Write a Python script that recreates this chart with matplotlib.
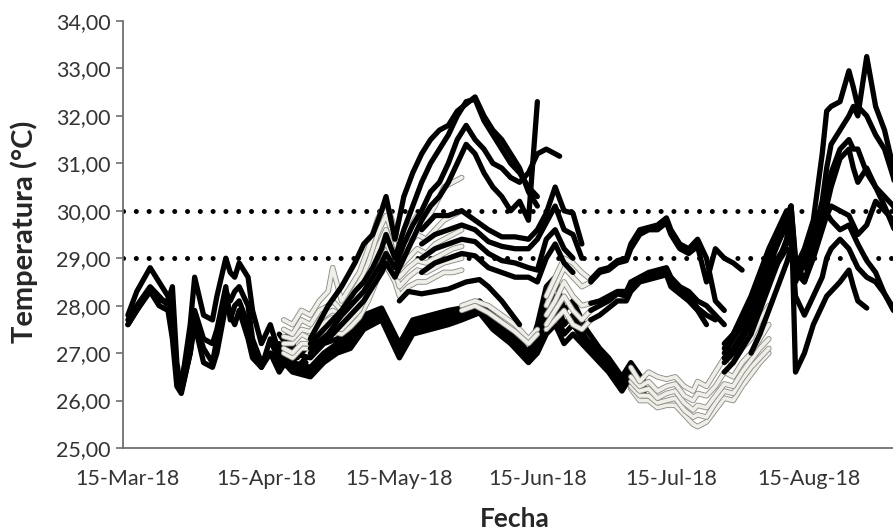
import numpy as np
import matplotlib
matplotlib.use("Agg")
import matplotlib.pyplot as plt
import matplotlib.dates as mdates
import matplotlib.patheffects as pe

nan = np.nan
START = np.datetime64("2018-03-15")

# --- data: days after 15-Mar-18 and temperatures (°C) ---

# March - April, black
days_mar = [0, 2, 5, 7, 9, 10, 11, 12, 14, 15, 17, 19, 20, 22, 23, 24, 25, 27, 28, 30, 32, 34, 36, 38, 40]
mar_1 = [27.8, 28.3, 28.8, 28.5, 28.2, 27.5, 26.6, 26.3, 27.6, 28.6, 27.8, 27.7, 28.2, 29.0, 28.7, 28.6, 28.9, 28.6, 27.9, 27.2, 27.6, 27.0, 27.4, 27.0, 27.2]
mar_2 = [27.6, 27.9, 28.35, 28.1, 28.1, 28.4, 26.8, 26.2, 27.0, 27.7, 27.1, 26.8, 27.3, 28.3, 28.1, 28.3, 28.4, 28.0, 27.3, 26.8, 27.0, 26.7, 27.1, 26.7, 26.9]
mar_3 = [27.7, 28.0, 28.4, 28.2, 28.0, 27.8, 26.5, 26.4, 27.3, 27.9, 27.3, 27.2, 27.5, 28.4, 27.7, 28.0, 28.1, 27.6, 27.0, 26.7, 27.3, 26.8, 27.2, 26.9, 27.1]
mar_4 = [27.6, 27.9, 28.3, 28.0, 27.9, 27.3, 26.3, 26.15, 27.0, 27.6, 26.8, 26.7, 27.0, 28.0, 27.8, 27.6, 27.9, 27.3, 26.9, 26.7, 27.0, 26.6, 26.9, 26.6, 26.8]

# April - May, light
days_light = [35, 37, 39, 41, 43, 45, 46, 48, 50, 52, 54, 56, 58, 60, 61, 63, 65, 67, 69, 71, 73, 75]
light_1 = [27.7, 27.6, 27.9, 27.8, 28.1, 28.3, 28.8, 28.1, 28.4, 28.7, 29.2, 29.8, 30.2, 29.6, 29.3, 29.6, 29.9, 29.8, 30.1, 30.5, 30.6, 30.7]
light_2 = [27.5, 27.4, 27.7, 27.6, 27.9, 28.0, 28.1, 27.9, 28.2, 28.5, 28.9, 29.5, 29.9, 29.4, 29.0, 29.3, 29.5, 29.4, 29.6, 29.8, 29.9, 30.0]
light_3 = [27.35, 27.3, 27.5, 27.45, 27.7, 27.85, 27.9, 27.8, 28.0, 28.3, 28.7, 29.2, 29.6, 29.1, 28.8, 29.0, 29.2, 29.1, 29.3, 29.4, 29.5, 29.6]
light_4 = [27.2, 27.2, 27.4, 27.3, 27.55, 27.7, 27.75, 27.65, 27.85, 28.1, 28.5, 29.0, 29.35, 28.9, 28.6, 28.8, 28.95, 28.9, 29.0, 29.1, 29.2, 29.25]
light_5 = [27.1, 27.0, 27.2, 27.2, 27.4, 27.55, 27.6, 27.5, 27.7, 27.9, 28.3, 28.75, 29.1, 28.7, 28.4, 28.6, 28.75, 28.7, 28.8, 28.9, 28.95, 29.0]
light_6 = [27.0, 26.9, 27.1, 27.1, 27.3, 27.4, 27.45, 27.4, 27.55, 27.75, 28.1, 28.55, 28.85, 28.5, 28.2, 28.4, 28.5, 28.5, 28.6, 28.7, 28.7, 28.75]

# lower bundle, April - July, black
days_low = [34, 37, 41, 44, 47, 50, 53, 57, 61, 64, 68, 72, 75, 79, 82, 86, 90, 92, 94, 96, 98, 100, 103, 106, 108, 111, 113, 116]
low_1 = [27.4, 27.0, 26.9, 27.2, 27.3, 27.4, 27.8, 27.95, 27.2, 27.7, 27.8, 27.9, 27.95, 28.1, 27.8, 27.5, 27.0, 27.6, 28.4, 28.6, 27.9, 28.1, 27.5, 27.1, 26.9, 26.5, 26.8, 26.4]
low_2 = [27.2, 26.8, 26.7, 27.0, 27.2, 27.3, 27.7, 27.85, 27.1, 27.6, 27.7, 27.8, 27.85, 28.0, 27.7, 27.4, 26.9, 27.4, 28.0, 28.2, 27.6, 27.8, 27.3, 27.0, 26.8, 26.4, 26.7, 26.3]
low_3 = [27.0, 26.7, 26.6, 26.9, 27.1, 27.2, 27.6, 27.75, 27.0, 27.5, 27.6, 27.7, 27.8, 27.9, 27.6, 27.3, 26.85, 27.2, 27.7, 27.9, 27.4, 27.6, 27.2, 26.9, 26.7, 26.3, 26.6, 26.2]
low_4 = [26.9, 26.6, 26.5, 26.8, 27.0, 27.1, 27.5, 27.7, 26.9, 27.4, 27.5, 27.6, 27.7, 27.85, 27.5, 27.2, 26.8, 27.0, 27.4, 27.6, 27.2, 27.4, 27.1, 26.8, 26.6, 26.2, 26.5, 26.2]

# single line near 28.3, May - June
days_mid = [61, 63, 66, 69, 72, 76, 79, 81, 84, 86, 88]
mid_1 = [28.1, 28.3, 28.25, 28.3, 28.35, 28.5, 28.55, 28.4, 28.1, 27.85, 27.6]

# lines around 29-30, May - June
days_band = [66, 69, 72, 75, 78, 81, 84, 87, 90, 92, 94, 96, 98, 100, 102]
band_1 = [29.6, 29.9, 29.9, 30.0, 29.8, 29.6, 29.45, 29.45, 29.4, 29.6, 29.95, 30.5, 30.0, 29.95, 29.3]
band_2 = [29.3, 29.5, 29.6, 29.7, 29.6, 29.35, 29.25, 29.2, 29.2, 29.4, 29.75, 30.1, 29.6, 29.5, 29.0]
band_3 = [29.0, 29.2, 29.3, 29.4, 29.35, 29.1, 28.95, 28.9, 28.8, 28.75, 29.4, 29.6, 29.2, 29.0, nan]
band_4 = [28.7, 28.9, 29.0, 29.1, 29.05, 28.8, 28.7, 28.6, 28.6, 28.5, 29.0, 29.3, 28.9, 28.7, nan]

# warm peak, May - June
days_high = [41, 45, 48, 51, 53, 55, 57, 58, 60, 62, 64, 66, 68, 70, 72, 74, 76, 78, 80, 82, 84, 86, 88, 90, 92, 94, 97]
high_1 = [27.3, 28.0, 28.4, 28.9, 29.3, 29.5, 30.0, 30.3, 29.4, 30.3, 30.8, 31.2, 31.5, 31.7, 31.8, 32.1, 32.25, 32.4, 32.0, 31.7, 31.5, 31.2, 30.9, 30.4, 30.1, nan, nan]
high_2 = [27.2, 27.6, 27.9, 28.3, 28.5, 28.8, 29.2, 29.5, 29.0, 29.6, 30.1, 30.6, 31.0, 31.3, 31.6, 32.0, 32.3, 32.35, 31.9, 31.6, 31.3, 31.0, 30.8, 30.5, 30.3, nan, nan]
high_3 = [27.1, 27.4, 27.8, 28.1, 28.3, 28.6, 28.9, 29.1, 28.8, 29.3, 29.7, 30.0, 30.4, 30.6, 31.0, 31.5, 31.8, 31.5, 31.3, 31.0, 30.9, 30.7, 30.6, 30.8, 31.2, 31.3, 31.15]
high_4 = [27.0, 27.3, 27.6, 27.9, 28.1, 28.4, 28.7, 28.9, 28.6, 29.0, 29.4, 29.8, 30.1, 30.3, 30.6, 31.0, 31.4, 31.2, 30.8, 30.5, 30.3, 30.0, 30.2, 29.8, 32.3, nan, nan]

# light segments in June
days_lj = [75, 78, 81, 84, 87, 90, 92]
lj_1 = [28.0, 28.1, 28.0, 27.8, 27.6, 27.3, 27.5]
lj_2 = [27.9, 28.0, 27.85, 27.65, 27.45, 27.2, 27.4]

days_lk = [94, 96, 98, 100, 102, 104]
lk_1 = [28.2, 28.6, 29.0, 28.9, 28.7, 28.55]
lk_2 = [28.0, 28.4, 28.8, 28.6, 28.4, 28.5]
lk_3 = [27.8, 28.1, 28.5, 28.2, 28.0, 28.05]
lk_4 = [27.6, 27.9, 28.2, 27.9, 27.7, 27.9]
lk_5 = [27.5, 27.7, 27.9, 27.6, 27.5, 27.7]

# July, black
days_jul = [104, 106, 108, 110, 112, 113, 115, 117, 119, 121, 122, 124, 126, 128, 130, 132, 134, 136, 138]
jul_1 = [28.55, 28.75, 28.8, 28.95, 29.0, 29.3, 29.6, 29.65, 29.7, 29.85, 29.6, 29.3, 29.2, 29.4, 29.0, 28.1, 27.9, nan, nan]
jul_2 = [28.5, 28.7, 28.75, 28.9, 28.95, 29.2, 29.5, 29.6, 29.6, 29.75, 29.5, 29.2, 29.1, 29.25, 28.5, 29.2, 29.0, 28.9, 28.75]
jul_3 = [28.05, 28.1, 28.2, 28.3, 28.3, 28.5, 28.6, 28.7, 28.75, 28.8, 28.6, 28.4, 28.3, 28.1, 28.0, 27.8, 27.6, nan, nan]
jul_4 = [27.9, 28.0, 28.1, 28.25, 28.2, 28.4, 28.55, 28.6, 28.65, 28.7, 28.5, 28.3, 28.2, 27.95, 27.8, 27.7, nan, nan, nan]
jul_5 = [27.7, 27.8, 27.95, 28.1, 28.1, 28.3, 28.5, 28.55, 28.6, 28.65, 28.4, 28.25, 28.1, 27.9, 27.6, nan, nan, nan, nan]

# July - August, light
days_jl = [113, 115, 117, 119, 121, 123, 125, 127, 128, 130, 132, 134, 136, 138, 140, 142, 144]
jl_1 = [26.7, 26.4, 26.6, 26.5, 26.45, 26.5, 26.3, 26.2, 26.4, 26.3, 26.6, 26.9, 26.8, 27.1, 27.3, 27.7, 28.0]
jl_2 = [26.5, 26.3, 26.4, 26.2, 26.3, 26.35, 26.1, 26.0, 26.15, 26.1, 26.3, 26.6, 26.5, 26.8, 27.0, 27.3, 27.6]
jl_3 = [26.4, 26.2, 26.25, 26.05, 26.15, 26.2, 25.95, 25.8, 25.9, 25.85, 26.1, 26.35, 26.3, 26.6, 26.85, 27.1, 27.3]
jl_4 = [26.3, 26.1, 26.1, 25.95, 26.0, 26.05, 25.8, 25.65, 25.7, 25.65, 25.95, 26.2, 26.15, 26.45, 26.7, 26.9, 27.1]
jl_5 = [26.25, 26.0, 26.0, 25.85, 25.9, 25.9, 25.7, 25.5, 25.45, 25.55, 25.8, 26.05, 26.0, 26.3, 26.55, 26.8, 27.0]

# August - September, black
days_aug = [134, 136, 138, 140, 142, 144, 146, 148, 149, 150, 152, 154, 156, 157, 158, 160, 162, 163, 164, 166, 168, 170, 172, 174, 176]
aug_1 = [27.1, 27.4, 27.8, 28.2, 28.7, 29.2, 29.6, 30.0, 29.6, 28.8, 29.2, 29.8, 31.2, 32.1, 32.2, 32.3, 32.95, 32.6, 32.2, 32.0, 31.6, 31.3, 30.7, 29.8, 29.0]
aug_2 = [27.0, 27.3, 27.6, 28.0, 28.5, 28.9, 29.3, 29.7, 29.3, 28.6, 29.0, 29.5, 30.2, 30.9, 31.4, 31.7, 32.0, 32.2, 32.0, 33.25, 32.2, 31.7, 30.9, 30.0, 29.2]
aug_3 = [26.9, 27.1, 27.4, 27.8, 28.3, 28.8, 29.3, 29.8, 30.1, 29.0, 28.5, 29.2, 29.8, 30.4, 30.8, 31.3, 31.5, 31.3, 31.3, 30.8, 30.5, 30.1, 29.65, 29.2, 28.8]
aug_4 = [27.2, 27.4, 27.7, 28.1, 28.6, 29.0, 29.5, 29.9, 30.1, 28.9, 28.8, 29.3, 29.7, 30.1, 30.5, 31.1, 31.3, 30.9, 30.6, 30.9, 30.5, 30.3, 30.1, 29.6, 29.0]
aug_5 = [26.6, 26.8, 27.1, 27.4, 27.9, 28.4, 28.9, 29.4, 30.1, 26.6, 27.0, 27.6, 28.0, 28.2, 28.3, 28.5, 28.75, 28.4, 28.1, 27.95, nan, nan, nan, nan, nan]
aug_6 = [26.8, 27.0, 27.3, 27.7, 28.1, 28.6, 29.0, 29.3, 29.5, 28.2, 27.8, 28.2, 28.6, 29.0, 29.2, 29.4, 29.2, 29.0, 28.8, 28.6, 28.5, 28.25, 27.9, 27.8, 27.7]
aug_7 = [26.9, 27.0, 27.3, 27.6, 28.0, 28.5, 28.9, 29.2, 29.1, 28.5, 28.9, 29.4, 29.8, 29.95, 29.8, 29.6, 29.7, 29.5, 29.3, 28.95, 28.7, 28.25, 27.95, 27.9, 27.8]
aug_8 = [nan, nan, nan, 27.0, 27.4, 27.9, 28.4, 28.9, 29.2, 28.7, 28.5, 29.0, 29.6, 29.9, 30.1, 30.0, 29.9, 29.7, 29.5, 29.7, 30.2, 30.0, 29.8, 29.2, 28.6]

limits = [29.0, 30.0]
tick_dates = ["2018-03-15", "2018-04-15", "2018-05-15", "2018-06-15", "2018-07-15", "2018-08-15"]
tick_labels = ["15-Mar-18", "15-Apr-18", "15-May-18", "15-Jun-18", "15-Jul-18", "15-Aug-18"]


def to_dates(days):
    return START + np.array(days, dtype="timedelta64[D]")


plt.rcParams["font.family"] = ["Lato", "DejaVu Sans"]

fig = plt.figure(figsize=(8.93, 5.31), dpi=100)
# plot area runs a little past the right edge of the picture, as in the source
ax = fig.add_axes([123 / 893, 83 / 531, 782 / 893, 427 / 531])

black = dict(color="black", lw=3.8, solid_joinstyle="round", solid_capstyle="round")
light = dict(color="#efeee8", lw=2.7, solid_joinstyle="round", solid_capstyle="round",
             path_effects=[pe.Stroke(linewidth=4.0, foreground="#8e8d86"), pe.Normal()])

for y in limits:
    ax.axhline(y, color="black", lw=3.6, ls=(0, (0.01, 2.55)), dash_capstyle="round", zorder=1.5)

for vals in [low_1, low_2, low_3, low_4]:
    ax.plot(to_dates(days_low), vals, zorder=2, **black)
for vals in [mar_1, mar_2, mar_3, mar_4]:
    ax.plot(to_dates(days_mar), vals, zorder=2, **black)

for days, group in [(days_light, [light_6, light_5, light_4, light_3, light_2, light_1]),
                    (days_lj, [lj_1, lj_2]),
                    (days_lk, [lk_5, lk_4, lk_3, lk_2, lk_1]),
                    (days_jl, [jl_5, jl_4, jl_3, jl_2, jl_1])]:
    for vals in group:
        ax.plot(to_dates(days), vals, zorder=3, **light)

for days, group in [(days_mid, [mid_1]),
                    (days_band, [band_1, band_2, band_3, band_4]),
                    (days_high, [high_1, high_2, high_3, high_4]),
                    (days_jul, [jul_1, jul_2, jul_3, jul_4, jul_5]),
                    (days_aug, [aug_1, aug_2, aug_3, aug_4, aug_5, aug_6, aug_7, aug_8])]:
    for vals in group:
        ax.plot(to_dates(days), vals, zorder=4, **black)

x0 = mdates.date2num(START)
ax.set_xlim(x0 - 1.1, x0 + 174.6)
ax.set_ylim(25, 34)

ax.set_xticks([mdates.date2num(np.datetime64(d)) for d in tick_dates])
ax.set_xticklabels(tick_labels)
ax.set_yticks(np.arange(25, 35))
ax.set_yticklabels([f"{v:.2f}".replace(".", ",") for v in np.arange(25, 35)])

ax.tick_params(axis="x", length=0, pad=15, labelsize=15.5, labelcolor="#333333")
ax.tick_params(axis="y", length=5, width=1.2, color="#6f6f6f", pad=4, labelsize=15.5, labelcolor="#333333")

for side in ["top", "right"]:
    ax.spines[side].set_visible(False)
for side in ["left", "bottom"]:
    ax.spines[side].set_color("#6f6f6f")
    ax.spines[side].set_linewidth(1.3)

fig.text(24 / 893, 1 - 232 / 531, "Temperatura (°C)", rotation=90, ha="center", va="center",
         fontsize=21, fontweight="bold", color="#262626")
fig.text(515 / 893, 1 - 519 / 531, "Fecha", ha="center", va="center",
         fontsize=19, fontweight="bold", color="#262626")

fig.savefig("out.png", dpi=100)
